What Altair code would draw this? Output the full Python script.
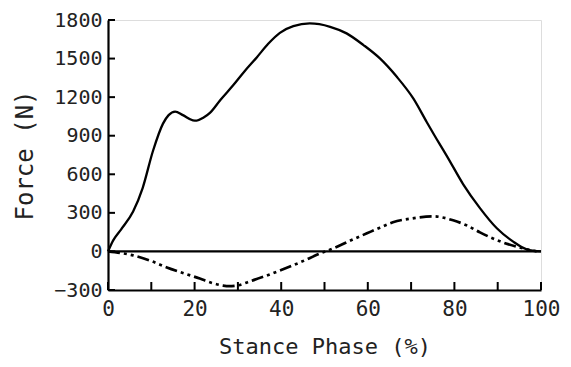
import altair as alt
import pandas as pd

# Vertical ground reaction force (solid)
vert_x = [0, 1.2, 3, 5.8, 8, 10.4, 12.7, 14, 15.5, 17.3, 19.6, 20.5, 22, 23.6, 26, 28.9, 31.5,
          34.4, 37, 39.7, 42.8, 46.6, 51.3, 55.1, 59, 62.8, 66.7, 70.5, 73.6, 76.5, 78.3, 82,
          85.9, 89.8, 93.5, 96.7, 100]
vert_f = [0, 86, 170, 310, 493, 783, 994, 1060, 1088, 1060, 1020, 1018, 1040, 1080, 1180, 1292, 1400,
          1511, 1615, 1700, 1752, 1773, 1747, 1696, 1605, 1501, 1358, 1190, 1007, 840, 740, 524,
          337, 180, 78, 16, 0]

# Anterior-posterior force (dash-dot-dot)
ap_x = [0, 5.8, 10, 13.6, 17.5, 21.2, 24, 26.6, 28, 29.7, 33, 36.6, 40, 44.3, 49, 52, 56, 59.8,
        62.8, 65.8, 70.3, 75, 79.7, 83, 85.9, 91.2, 95, 99]
ap_f = [0, -31, -75, -125, -170, -211, -245, -266, -270, -266, -230, -188, -145, -86, -16, 23, 85, 141,
        185, 227, 257, 273, 242, 200, 148, 70, 31, 0]

x_ticks = [0, 10, 20, 30, 40, 50, 60, 70, 80, 90, 100]
x_labels = [0, 20, 40, 60, 80, 100]
y_ticks = [-300, 0, 300, 600, 900, 1200, 1500, 1800]

FONT = "DejaVu Sans Mono"

vert = pd.DataFrame({"x": vert_x, "f": vert_f})
ap = pd.DataFrame({"x": ap_x, "f": ap_f})
xt = pd.DataFrame({"x": x_ticks})
yt = pd.DataFrame({"f": y_ticks})

xscale = alt.Scale(domain=[0, 100], nice=False, zero=False)
yscale = alt.Scale(domain=[-300, 1800], nice=False, zero=False)

xaxis = alt.Axis(values=x_labels, ticks=False, grid=False, domainColor="black", domainWidth=2.2,
                 labelFont=FONT, labelFontSize=21, labelColor="#222", labelFlush=False, labelPadding=8,
                 labelOverlap=False, format="d",
                 title="Stance Phase (%)", titleFont=FONT, titleFontSize=22, titleFontWeight="normal",
                 titleColor="#222", titlePadding=17)
yaxis = alt.Axis(values=y_ticks, ticks=False, grid=False, domainColor="black", domainWidth=2.2,
                 labelFont=FONT, labelFontSize=20, labelColor="#222", labelPadding=6,
                 labelOverlap=False, format="d",
                 title="Force  (N)", titleFont=FONT, titleFontSize=24, titleFontWeight="normal",
                 titleColor="#222", titlePadding=16)

solid = alt.Chart(vert).mark_line(color="black", strokeWidth=2.3, interpolate="monotone").encode(
    x=alt.X("x:Q", scale=xscale, axis=xaxis),
    y=alt.Y("f:Q", scale=yscale, axis=yaxis),
)

dashed = alt.Chart(ap).mark_line(color="black", strokeWidth=2.7, interpolate="monotone",
                                 strokeDash=[12, 4, 3, 4, 3, 4]).encode(
    x=alt.X("x:Q", scale=xscale, axis=xaxis),
    y=alt.Y("f:Q", scale=yscale, axis=yaxis),
)

zero = alt.Chart(pd.DataFrame({"x": [0], "x2": [100], "f": [0]})).mark_rule(
    color="black", strokeWidth=2.2).encode(
    x=alt.X("x:Q", scale=xscale, axis=xaxis), x2="x2:Q", y=alt.Y("f:Q", scale=yscale, axis=yaxis)
)

xtick_marks = alt.Chart(xt).mark_rule(color="black", strokeWidth=2).encode(
    x=alt.X("x:Q", scale=xscale, axis=xaxis), y=alt.value(270), y2=alt.value(262)
)
ytick_marks = alt.Chart(yt).mark_rule(color="black", strokeWidth=2).encode(
    y=alt.Y("f:Q", scale=yscale, axis=yaxis), x=alt.value(0), x2=alt.value(7)
)

chart = alt.layer(solid, zero, dashed, xtick_marks, ytick_marks).properties(
    width=433, height=270,
    autosize=alt.AutoSizeParams(type="none"),
    padding={"left": 100, "top": 12, "right": 22, "bottom": 75},
).configure_view(stroke=None).configure_axis(labelOverlap=False).configure(background="white")

chart.save("out.html", embed_options={"renderer": "svg", "actions": False})
